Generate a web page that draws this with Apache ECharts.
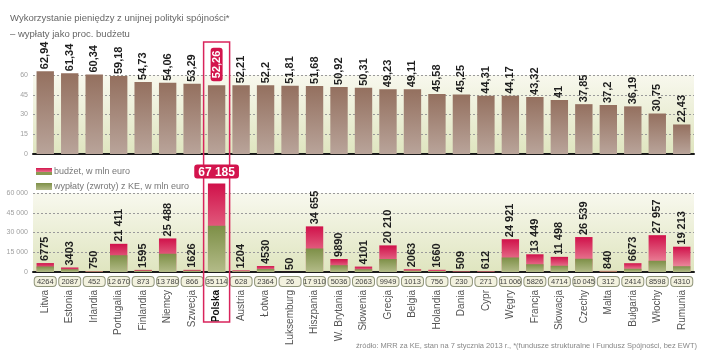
<!DOCTYPE html>
<html>
<head>
<meta charset="utf-8">
<script src="https://cdn.jsdelivr.net/npm/echarts@6/dist/echarts.min.js"></script>
<style>
  html, body { margin: 0; padding: 0; background: #fff; }
  #chart { width: 720px; height: 352px; }
</style>
</head>
<body>
<div id="chart"></div>
<script>
// 国家 / countries
const countries = ['Litwa', 'Estonia', 'Irlandia', 'Portugalia', 'Finlandia', 'Niemcy', 'Szwecja', 'Polska', 'Austria', 'Łotwa',
  'Luksemburg', 'Hiszpania', 'W. Brytania', 'Słowenia', 'Grecja', 'Belgia', 'Holandia', 'Dania', 'Cypr', 'Węgry',
  'Francja', 'Słowacja', 'Czechy', 'Malta', 'Bułgaria', 'Włochy', 'Rumunia']
// wypłaty jako proc. budżetu
const percent = [62.94, 61.34, 60.34, 59.18, 54.73, 54.06, 53.29, 52.26, 52.21, 52.2,
  51.81, 51.68, 50.92, 50.31, 49.23, 49.11, 45.58, 45.25, 44.31, 44.17,
  43.32, 41, 37.85, 37.2, 36.19, 30.75, 22.43]
// budżet, w mln euro
const budget = [6775, 3403, 750, 21411, 1595, 25488, 1626, 67185, 1204, 4530,
  50, 34655, 9890, 4101, 20210, 2063, 1660, 509, 612, 24921,
  13449, 11498, 26539, 840, 6673, 27957, 19213]
// wypłaty (zwroty) z KE, w mln euro
const payments = [4264, 2087, 452, 12670, 873, 13780, 866, 35114, 628, 2364,
  26, 17910, 5036, 2063, 9949, 1013, 756, 230, 271, 11006,
  5826, 4714, 10045, 312, 2414, 8598, 4310]
const pctTicks = [0, 15, 30, 45, 60]
const eurTicks = [0, 15000, 30000, 45000, 60000]
const highlight = 'Polska'

const font = "'Liberation Sans', Arial, sans-serif"
const red = '#d3144d'

// 12670 -> "12 670"
function fmtNum(v, sep) {
  let s = String(v)
  if (v >= 10000) s = s.slice(0, s.length - 3) + (sep || ' ') + s.slice(s.length - 3)
  return s
}
function fmtPct(v) {
  return String(v).replace('.', ',')
}
function grad(c1, c2) {
  return new echarts.graphic.LinearGradient(0, 0, 0, 1, [
    { offset: 0, color: c1 },
    { offset: 1, color: c2 }
  ])
}

let myEcharts = echarts.init(document.getElementById('chart'))

const rotLabel = {
  show: true,
  position: 'top',
  rotate: 90,
  align: 'left',
  verticalAlign: 'middle',
  distance: 2,
  fontFamily: font,
  fontWeight: 'bold',
  fontSize: 11,
  color: '#1e1e1e'
}

const pctData = percent.map((v, i) => {
  let item = { value: v }
  if (countries[i] === highlight) {
    item.label = {
      color: '#fff',
      backgroundColor: red,
      borderRadius: 3,
      padding: [1, 3, 0, 3],
      distance: 4
    }
  }
  return item
})

const budgetData = budget.map((v, i) => {
  let item = { value: v }
  if (countries[i] === highlight) {
    item.label = {
      rotate: 0,
      align: 'center',
      verticalAlign: 'bottom',
      color: '#fff',
      fontSize: 12,
      backgroundColor: red,
      borderRadius: 3,
      padding: [2, 4, 0, 4],
      distance: 5
    }
  }
  return item
})

const plotBg = new echarts.graphic.LinearGradient(0, 0, 0, 1, [
  { offset: 0, color: '#f8f8ee' },
  { offset: 1, color: '#dfe5bf' }
])

const yCommon = {
  type: 'value',
  axisLine: { show: false },
  axisTick: { show: false },
  axisLabel: { color: '#a0a0a0', fontSize: 7, margin: 5, fontFamily: font },
  splitLine: { lineStyle: { color: '#9a9a9a', type: [2, 2], width: 1 } }
}

let option = {
  animation: false,
  backgroundColor: '#fff',
  title: [
    {
      text: 'Wykorzystanie pieniędzy z unijnej polityki spójności*',
      left: 5, top: 8,
      textStyle: { fontSize: 9.5, fontWeight: 'normal', color: '#666', fontFamily: font }
    },
    {
      text: '– wypłaty jako proc. budżetu',
      left: 5, top: 24,
      textStyle: { fontSize: 9.5, fontWeight: 'normal', color: '#666', fontFamily: font }
    },
    {
      text: 'źródło: MRR za KE, stan na 7 stycznia 2013 r., *(fundusze strukturalne i Fundusz Spójności, bez EWT)',
      right: 18, top: 337,
      textStyle: { fontSize: 7.5, fontWeight: 'normal', color: '#888', fontFamily: font }
    }
  ],
  legend: {
    orient: 'vertical',
    left: 31, top: 162,
    itemWidth: 16, itemHeight: 7,
    itemGap: 6,
    textStyle: { fontSize: 9, color: '#777', fontFamily: font, padding: [0, 0, 0, -3] },
    data: [
      {
        name: 'budżet, w mln euro',
        icon: 'rect',
        itemStyle: {
          color: new echarts.graphic.LinearGradient(0, 0, 0, 1, [
            { offset: 0, color: '#d3144d' },
            { offset: 0.55, color: '#e8708a' },
            { offset: 0.56, color: '#8a9a52' },
            { offset: 1, color: '#8a9a52' }
          ])
        }
      },
      { name: 'wypłaty (zwroty) z KE, w mln euro', icon: 'rect' }
    ]
  },
  grid: [
    { left: 33, width: 661, top: 75, height: 79, show: true, backgroundColor: plotBg, borderWidth: 0 },
    { left: 33, width: 661, top: 193, height: 79, show: true, backgroundColor: plotBg, borderWidth: 0 }
  ],
  xAxis: [
    {
      gridIndex: 0,
      type: 'category',
      position: 'bottom',
      data: countries,
      axisLine: { lineStyle: { color: '#1a1a1a', width: 2 } },
      axisTick: { show: false },
      axisLabel: { show: false }
    },
    {
      // ramki z wypłatami
      gridIndex: 1,
      type: 'category',
      position: 'bottom',
      data: countries,
      axisLine: { lineStyle: { color: '#1a1a1a', width: 2 } },
      axisTick: { show: false },
      axisLabel: {
        interval: 0,
        margin: 5,
        formatter: (v, i) => fmtNum(payments[i], '\u2009'),
        fontFamily: font,
        fontSize: 7.5,
        color: '#444',
        width: 21,
        height: 8,
        lineHeight: 8,
        align: 'center',
        padding: [1, 0, 0, 0],
        backgroundColor: '#f3f2df',
        borderColor: '#8f9479',
        borderWidth: 1,
        borderRadius: 3
      }
    },
    {
      // nazwy krajów
      gridIndex: 1,
      type: 'category',
      position: 'bottom',
      data: countries,
      axisLine: { show: false },
      axisTick: { show: false },
      axisLabel: {
        interval: 0,
        rotate: 90,
        margin: 18,
        fontFamily: font,
        fontSize: 10,
        color: '#555',
        formatter: v => v === highlight ? '{b|' + v + '}' : v,
        rich: { b: { fontWeight: 'bold', color: '#111', fontSize: 10, fontFamily: font } }
      }
    }
  ],
  yAxis: [
    Object.assign({}, yCommon, { gridIndex: 0, min: pctTicks[0], max: pctTicks[4], interval: 15 }),
    Object.assign({}, yCommon, {
      gridIndex: 1, min: eurTicks[0], max: eurTicks[4], interval: 15000,
      axisLabel: Object.assign({}, yCommon.axisLabel, { formatter: v => v === 0 ? '0' : fmtNum(v) })
    })
  ],
  series: [
    {
      name: 'proc',
      type: 'bar',
      xAxisIndex: 0,
      yAxisIndex: 0,
      clip: false,
      barCategoryGap: '29%',
      itemStyle: { color: grad('#94705f', '#b9a49a') },
      label: Object.assign({}, rotLabel, { formatter: p => fmtPct(p.value) }),
      data: pctData,
      z: 3
    },
    {
      name: 'budżet, w mln euro',
      type: 'bar',
      xAxisIndex: 1,
      yAxisIndex: 1,
      clip: false,
      barCategoryGap: '29%',
      itemStyle: { color: grad('#d0114a', '#f3a8b2') },
      label: Object.assign({}, rotLabel, { formatter: p => fmtNum(p.value) }),
      data: budgetData,
      z: 3
    },
    {
      name: 'wypłaty (zwroty) z KE, w mln euro',
      type: 'bar',
      xAxisIndex: 1,
      yAxisIndex: 1,
      barGap: '-100%',
      barCategoryGap: '29%',
      itemStyle: { color: grad('#7d8f47', '#b3bb88') },
      data: payments,
      z: 4
    }
  ]
}

myEcharts.setOption(option)

// ramka wokół Polski, pozycja z osi kategorii
const cx = myEcharts.convertToPixel({ xAxisIndex: 0 }, highlight)
myEcharts.setOption({
  graphic: [
    {
      type: 'rect',
      z: 1,
      shape: { x: cx - 13, y: 42, width: 26, height: 280 },
      style: { fill: 'none', stroke: '#d9245c', lineWidth: 1.5 }
    }
  ]
})
</script>
</body>
</html>
